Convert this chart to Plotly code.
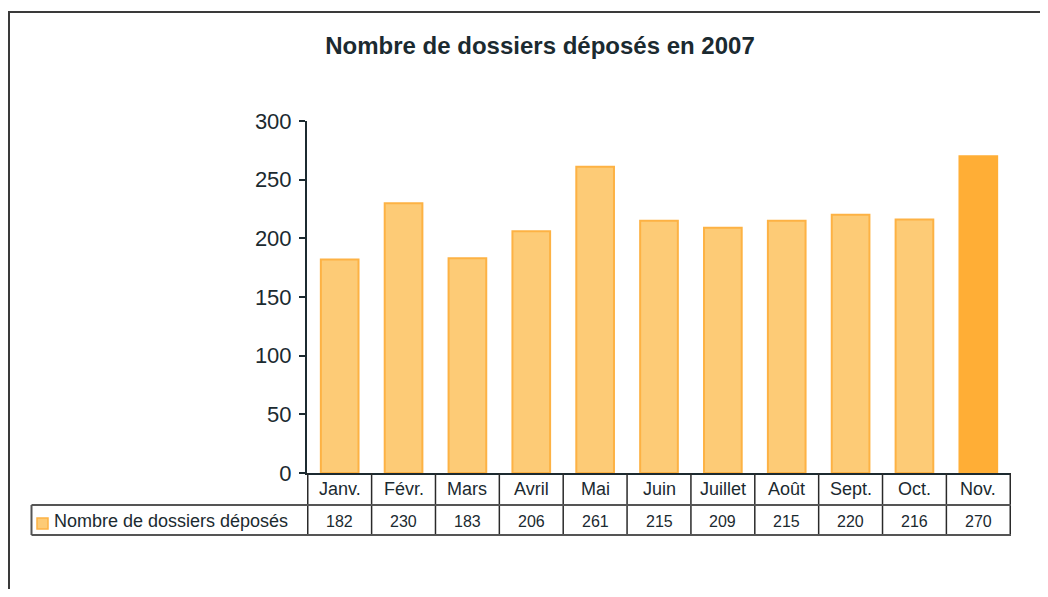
import plotly.graph_objects as go

months = ["Janv.", "Févr.", "Mars", "Avril", "Mai", "Juin", "Juillet", "Août", "Sept.", "Oct.", "Nov."]
dossiers = [182, 230, 183, 206, 261, 215, 209, 215, 220, 216, 270]
series_name = "Nombre de dossiers déposés"
title_text = "Nombre de dossiers déposés en 2007"

# page is offset by the default 8px body margin
OFF = 8
W, H = 1048 - 2 * OFF, 597 - 2 * OFF
PL, PR, PT, PB = 307, 1011, 121, 473  # plot area in page pixels
L, R, T, B = PL - OFF, W - (PR - OFF), PT - OFF, H - (PB - OFF)
PW, PH = W - L - R, H - T - B

def px_x(px):
    return (px - PL) / PW

def px_y(py):
    return (PB - py) / PH

LIGHT = "#FDCB76"
LIGHT_EDGE = "#FDB244"
DARK = "#FFAE36"
TXT = "#1b2a30"
GRID = "#2a2a2a"
FONT = "Liberation Sans, Arial, sans-serif"

n = len(months)
fill = [DARK if i == n - 1 else LIGHT for i in range(n)]
edge = [DARK if i == n - 1 else LIGHT_EDGE for i in range(n)]

fig = go.Figure(go.Bar(
    x=months, y=dossiers, name=series_name,
    marker=dict(color=fill, line=dict(color=edge, width=2)),
))

shapes = []
# outer frame (top and left visible; right/bottom lie outside the page)
shapes.append(dict(type="rect", xref="paper", yref="paper",
                   x0=px_x(OFF + 1), x1=px_x(1080), y0=px_y(640), y1=px_y(12),
                   line=dict(color="#3a3a3a", width=2), layer="below"))
row1_top, row1_bot, row2_bot = 473, 505, 535
for i in range(n + 1):
    shapes.append(dict(type="line", xref="x", yref="paper",
                       x0=i - 0.5, x1=i - 0.5, y0=px_y(row1_top), y1=px_y(row2_bot),
                       line=dict(color=GRID, width=1.5)))
for yy in (row1_bot, row2_bot):
    shapes.append(dict(type="line", xref="paper", yref="paper",
                       x0=px_x(31.5), x1=1, y0=px_y(yy), y1=px_y(yy),
                       line=dict(color="#555555", width=2)))
shapes.append(dict(type="line", xref="paper", yref="paper",
                   x0=px_x(31.5), x1=px_x(31.5), y0=px_y(row1_bot), y1=px_y(row2_bot),
                   line=dict(color="#555555", width=2)))
# legend key
shapes.append(dict(type="rect", xref="paper", yref="paper",
                   x0=px_x(37), x1=px_x(48), y0=px_y(529), y1=px_y(518),
                   fillcolor=LIGHT, line=dict(color=LIGHT_EDGE, width=1.5)))

annotations = []
hfont = dict(family=FONT, size=18, color=TXT)
vfont = dict(family=FONT, size=16, color=TXT)
for m, v in zip(months, dossiers):
    annotations.append(dict(x=m, xref="x", y=px_y(489), yref="paper", text=m,
                            showarrow=False, font=hfont, xanchor="center", yanchor="middle"))
    annotations.append(dict(x=m, xref="x", y=px_y(521), yref="paper", text=str(v),
                            showarrow=False, font=vfont, xanchor="center", yanchor="middle"))
annotations.append(dict(x=px_x(52), xref="paper", y=px_y(521), yref="paper", text=series_name,
                        showarrow=False, font=hfont, xanchor="left", yanchor="middle"))

fig.update_layout(
    width=W, height=H,
    margin=dict(l=L, r=R, t=T, b=B),
    paper_bgcolor="white", plot_bgcolor="white",
    showlegend=False,
    bargap=0.41,
    title=dict(text="<b>" + title_text + "</b>", xref="container", x=(540 - OFF) / W,
               y=1 - (46 - OFF) / H, xanchor="center", yanchor="middle",
               font=dict(family=FONT, size=24, color=TXT)),
    xaxis=dict(showticklabels=False, ticks="", showline=True, linecolor="#1c2a30",
               linewidth=2, showgrid=False, zeroline=False),
    yaxis=dict(range=[0, 300], dtick=50, showline=True, linecolor="#1c2a30", linewidth=2,
               ticks="outside", ticklen=6, tickwidth=2, tickcolor="#1c2a30",
               showgrid=False, zeroline=False, ticklabelstandoff=3,
               tickfont=dict(family=FONT, size=22, color=TXT)),
    shapes=shapes, annotations=annotations,
)

fig.write_html("out.html")
